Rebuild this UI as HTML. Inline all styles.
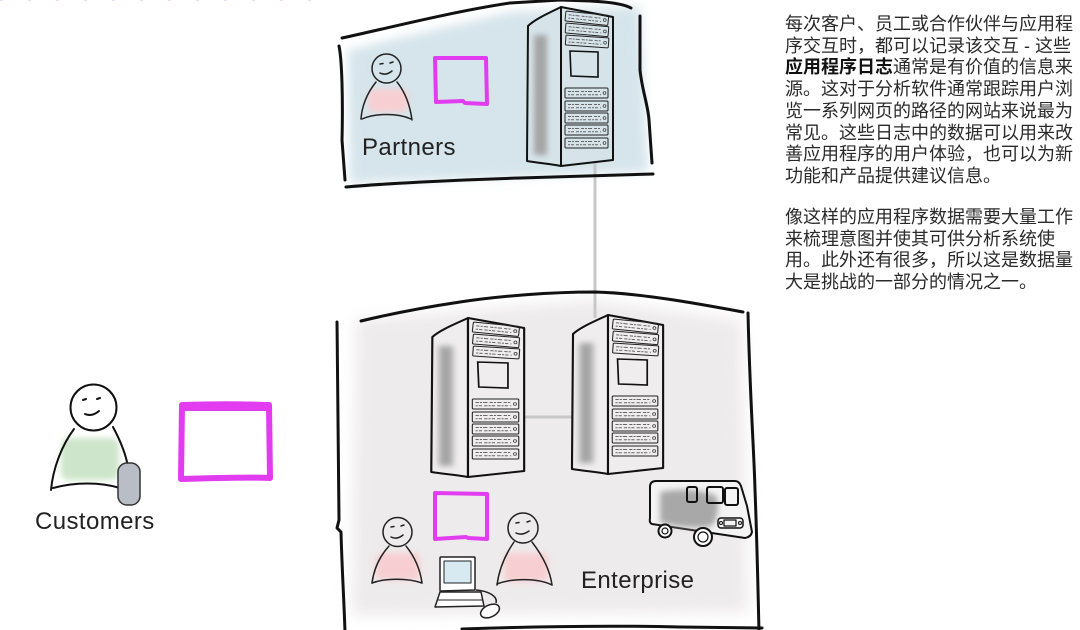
<!DOCTYPE html>
<html><head><meta charset="utf-8">
<style>
html,body{margin:0;padding:0;background:#fff;}
body{width:1080px;height:630px;position:relative;overflow:hidden;}
svg{position:absolute;left:0;top:0;}
.lbl{font-family:"Liberation Sans",sans-serif;font-size:24px;fill:#222;letter-spacing:0.4px;}
.para{position:absolute;left:785px;width:295px;font-family:"Liberation Sans","Noto Sans CJK SC",sans-serif;font-size:18px;line-height:21.7px;color:#2a2a2a;white-space:nowrap;}
.para b{font-weight:bold;color:#111;}
</style></head>
<body>
<svg width="1080" height="630" viewBox="0 0 1080 630" xmlns="http://www.w3.org/2000/svg">
<defs>
  <filter id="b5" x="-20%" y="-20%" width="140%" height="140%"><feGaussianBlur stdDeviation="5"/></filter>
  <filter id="b7" x="-20%" y="-20%" width="140%" height="140%"><feGaussianBlur stdDeviation="7"/></filter>
  <filter id="b3" x="-50%" y="-50%" width="200%" height="200%"><feGaussianBlur stdDeviation="3"/></filter>
  <g id="slot">
    <path d="M0,1 Q0,0 1,0 L42,0 Q43,0 43,1 L43,9 Q43,10 42,10 L1,10 Q0,10 0,9 Z" fill="none" stroke="#222" stroke-width="1"/>
    <line x1="3" y1="3.5" x2="36" y2="3.5" stroke="#666" stroke-width="1" stroke-dasharray="3 1 2 1 4 2"/>
    <line x1="3" y1="6.8" x2="36" y2="6.8" stroke="#666" stroke-width="1" stroke-dasharray="2 1 3 2 3 1"/>
    <circle cx="39.5" cy="5" r="1.4" fill="none" stroke="#444" stroke-width="0.8"/>
  </g>
  <g id="srv">
    <path d="M0,0 C-12,6 -26,12 -33,19 L-34,154 C-22,156 -10,157 0,159 Z" stroke="#111" stroke-width="2" stroke-linejoin="round"/>
    <rect x="-27" y="28" width="13" height="120" fill="#a5a5a5" filter="url(#b3)"/>
    <path d="M0,0 L52,10 L52,153 L0,159 Z" stroke="#111" stroke-width="2" stroke-linejoin="round"/>
    <g transform="translate(5,4) rotate(6)"><use href="#slot"/></g>
    <g transform="translate(5,16) rotate(5)"><use href="#slot"/></g>
    <g transform="translate(5,28) rotate(4)"><use href="#slot"/></g>
    <path d="M9,44 L37,45 L37,70 L10,69 Z" fill="none" stroke="#111" stroke-width="1.6"/>
    <use href="#slot" x="4" y="81"/>
    <use href="#slot" x="4" y="94"/>
    <use href="#slot" x="4" y="106"/>
    <use href="#slot" x="4" y="118"/>
    <use href="#slot" x="4" y="131"/>
  </g>
</defs>

<line x1="0" y1="0.5" x2="330" y2="0.5" stroke="#f5dcf5" stroke-width="1.2" stroke-dasharray="3 25"/>

<path d="M348,50 L510,12 L640,6 L648,172 L350,183 Z" fill="#d6e5eb" filter="url(#b5)"/>
<path d="M356,320 L590,300 L742,320 L748,612 L352,615 Z" fill="#eeebec" filter="url(#b7)"/>

<line x1="595" y1="160" x2="595" y2="318" stroke="#c8c8c8" stroke-width="3"/>
<line x1="522" y1="417" x2="578" y2="417" stroke="#c8c8c8" stroke-width="3"/>

<g fill="none" stroke="#111" stroke-width="3" stroke-linecap="round" stroke-linejoin="round">
  <path d="M342,38 C380,30 450,12 510,3 L560,0 L590,1 C610,2 624,4 631,8"/>
  <path d="M640,16 L640,70 C642,90 648,105 649,120 L652,163"/>
  <path d="M346,187 C380,184 450,180 520,178 C580,176 620,175 653,174"/>
  <path d="M339,46 C342,60 343,100 342,140 L345,180"/>
</g>
<g fill="none" stroke="#111" stroke-width="3" stroke-linecap="round" stroke-linejoin="round">
  <path d="M361,321 C390,314 420,308 460,302 C500,296 550,292 595,292 C640,293 700,304 743,312"/>
  <path d="M337,322 C338,400 338,480 339,520 L337,528 L341,532 C342,570 344,600 345,632"/>
  <path d="M748,313 C750,400 754,450 755,490 C757,540 758,590 759,632"/>
  <path d="M462,629 C520,627 600,625 680,627 L762,628"/>
</g>

<use href="#srv" x="561" y="7" fill="#d6e4ea"/>
<g transform="translate(468,318) scale(1.08,1)"><use href="#srv" fill="#efedee"/></g>
<g transform="translate(608,315) scale(1.06,1)"><use href="#srv" fill="#efedee"/></g>

<g fill="none" stroke="#e23cf0" stroke-linejoin="round" stroke-linecap="round">
  <path d="M435,58 L486,58 L487,104 L465,103 L463,101 L436,102 Z" stroke-width="4"/>
  <path d="M435,493 L487,494 L487,539 L468,538 L466,537 L435,539 Z" stroke-width="4"/>
  <path d="M182,405 C210,404 240,404 269,405 L270,478 C250,477 220,478 181,479 Z" stroke-width="6"/>
  <path d="M183,409 L267,409" stroke-width="4"/>
</g>

<rect x="368" y="89" width="40" height="23" rx="6" fill="#f7cfd2" filter="url(#b3)"/>
<g fill="none" stroke="#222" stroke-width="1.5" stroke-linecap="round">
  <circle cx="386.5" cy="68.5" r="14.5"/>
  <path d="M380,64 L383,63.5 M390,63 L393,62"/>
  <path d="M380,73 Q386,76 392,71"/>
  <path d="M376,82 C368,92 362,105 361,119"/>
  <path d="M397,82 C405,92 410,105 412,120"/>
  <path d="M362,119 C375,113 398,113 411,119"/>
</g>

<rect x="376" y="553" width="44" height="27" rx="6" fill="#f7cfd2" filter="url(#b3)"/>
<rect x="504" y="553" width="44" height="29" rx="6" fill="#f7cfd2" filter="url(#b3)"/>
<g fill="none" stroke="#222" stroke-width="1.5" stroke-linecap="round">
  <circle cx="397.5" cy="532" r="14.5"/>
  <path d="M391,527 L394,526.5 M401,526 L404,525"/>
  <path d="M391,537 Q397,540 403,535"/>
  <path d="M389,546 C380,556 374,568 372,583"/>
  <path d="M406,546 C414,556 420,568 422,583"/>
  <path d="M372,583 C385,578 408,578 422,583"/>
  <circle cx="523" cy="528" r="15"/>
  <path d="M516,523 L519,522.5 M527,522 L530,521"/>
  <path d="M516,533 Q522,536 529,531"/>
  <path d="M514,542 C505,555 499,570 497,585"/>
  <path d="M532,542 C542,555 550,570 552,585"/>
  <path d="M497,584 C512,578 538,578 552,585"/>
</g>

<g stroke="#222" stroke-width="1.5" stroke-linejoin="round" fill="#fff">
  <path d="M441,557 L474,557 Q475,557 475,558 L475,590 L440,591 L440,558 Q440,557 441,557 Z"/>
  <rect x="444" y="561" width="27" height="22" fill="#d7e9f1" stroke-width="1"/>
  <path d="M440,592 L481,592 L484,606 L435,607 Z"/>
  <path d="M438,600 L482,600" fill="none" stroke-width="1"/>
  <path d="M476,590 C488,591 498,596 496,603" fill="none"/>
  <ellipse cx="490" cy="611" rx="10" ry="6" transform="rotate(-25 490 611)"/>
</g>

<g stroke="#111" stroke-width="2" stroke-linejoin="round">
  <path d="M730,534 A6,6 0 0 1 740,538" fill="none"/>
  <path d="M656,481 L735,481 Q739,481 741,486 Q744,496 747,506 L752,532 Q751,537 745,538 L652,524 Q649,523 650,518 L650,487 Q650,481 656,481 Z" fill="#f5f4f4"/>
  <path d="M660,492 C680,488 705,490 716,496 C720,505 718,518 712,526 C695,530 672,526 660,522 Z" fill="#a8a8a8" stroke="none" filter="url(#b3)"/>
  <rect x="687" y="487" width="10" height="15" rx="2" fill="none"/>
  <rect x="707" y="487" width="16" height="16" rx="2" fill="none"/>
  <rect x="725" y="488" width="13" height="17" rx="2" fill="none"/>
  <rect x="718" y="518" width="25" height="10" rx="3" fill="#f5f4f4" stroke-width="1.5"/>
  <rect x="724" y="520" width="12" height="6" fill="none" stroke-width="1.2"/>
  <circle cx="721" cy="523" r="1.5" fill="none" stroke-width="1"/>
  <circle cx="740" cy="523" r="1.5" fill="none" stroke-width="1"/>
  <circle cx="665" cy="531" r="6.5" fill="#fff"/>
  <circle cx="665" cy="531" r="3" fill="none" stroke-width="1.2"/>
  <circle cx="703" cy="537" r="9" fill="#fff"/>
  <circle cx="703" cy="537" r="5" fill="none" stroke-width="1.2"/>
</g>

<rect x="61" y="438" width="58" height="42" rx="8" fill="#cde5ca" filter="url(#b3)"/>
<g fill="none" stroke="#111" stroke-width="2" stroke-linecap="round">
  <circle cx="93.5" cy="407.5" r="23"/>
  <path d="M83,400 L86,399 M97,399 L100,398"/>
  <path d="M85,414 Q92,417 99,411"/>
  <path d="M74,429 C62,445 53,468 51,490"/>
  <path d="M113,427 C120,440 126,455 128,467"/>
  <path d="M53,488 C75,482 100,482 120,488"/>
</g>
<rect x="118" y="463" width="22" height="42" rx="9" fill="#b9bdc5" stroke="#333" stroke-width="1.5"/>

<text class="lbl" x="362" y="155">Partners</text>
<text class="lbl" x="581" y="588">Enterprise</text>
<text class="lbl" x="35" y="529">Customers</text>
</svg>

<div class="para" style="top:14px;">每次客户、员工或合作伙伴与应用程<br>序交互时，都可以记录该交互 - 这些<br><b>应用程序日志</b>通常是有价值的信息来<br>源。这对于分析软件通常跟踪用户浏<br>览一系列网页的路径的网站来说最为<br>常见。这些日志中的数据可以用来改<br>善应用程序的用户体验，也可以为新<br>功能和产品提供建议信息。</div>
<div class="para" style="top:207px;">像这样的应用程序数据需要大量工作<br>来梳理意图并使其可供分析系统使<br>用。此外还有很多，所以这是数据量<br>大是挑战的一部分的情况之一。</div>
</body></html>
